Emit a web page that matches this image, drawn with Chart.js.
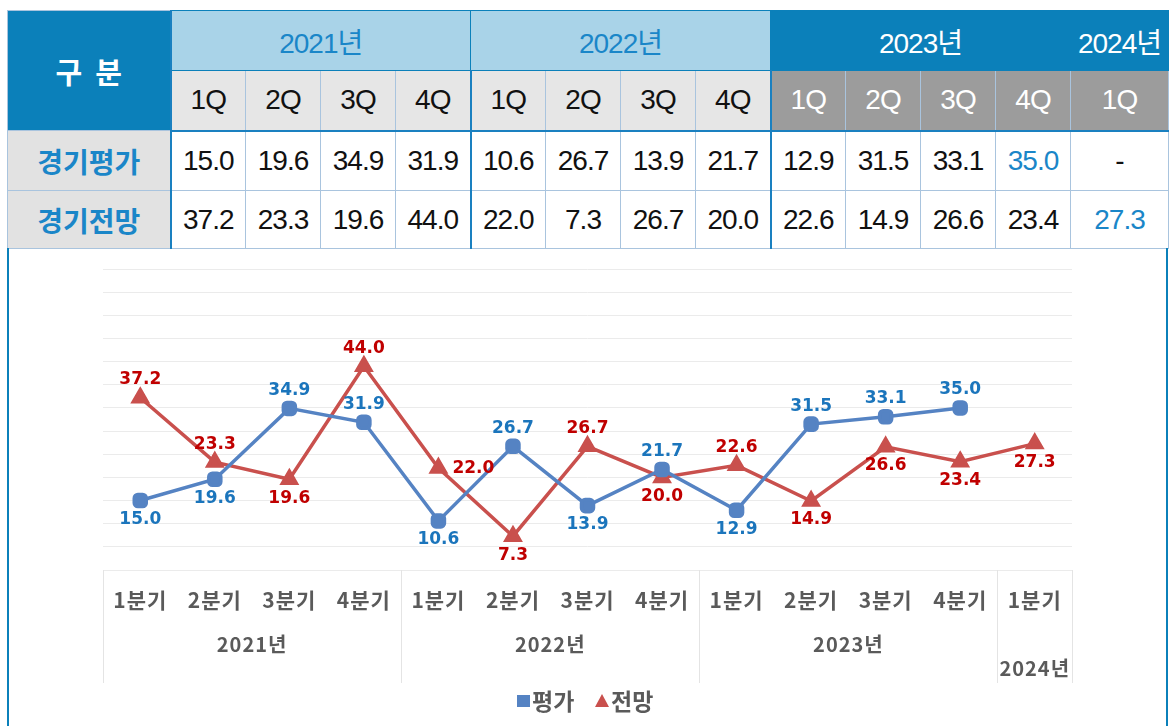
<!DOCTYPE html>
<html>
<head>
<meta charset="utf-8">
<script src="https://cdn.jsdelivr.net/npm/chart.js@4.4.1/dist/chart.umd.min.js"></script>
<style>
  body { margin: 0; background: #fff; width: 1171px; height: 726px; overflow: hidden; position: relative;
         font-family: "Liberation Sans", "Noto Sans CJK KR", sans-serif; }
  #tbl { position: absolute; left: 7px; top: 10px; width: 1161px; border-collapse: collapse; table-layout: fixed; }
  #tbl td { text-align: center; padding: 0; font-size: 28px; border: 1px solid #a9c4de; color: #111; letter-spacing: -1px; white-space: nowrap; }
  #tbl td.hd { background: #0b80ba; color: #fff; }
  #tbl td.lt { background: #a9d3e8; color: #1a86c8; }
  #tbl td.q { background: #e6e6e6; }
  #tbl td.qd { background: #9c9c9c; color: #fff; }
  #tbl td.lab { background: #e2e2e2; color: #1a86c8; font-weight: bold; font-family: "Noto Sans CJK KR", sans-serif; font-size: 28px; letter-spacing: 0; }
  #tbl td.hl { color: #1a86c8; }
  .vb { position: absolute; top: 248px; width: 2px; height: 478px; background: #0b80ba; }
  #wrap { position: absolute; left: 9px; top: 248px; width: 1157px; height: 478px; }
</style>
</head>
<body>
<table id="tbl"></table>
<div class="vb" style="left:7px"></div>
<div class="vb" style="left:1166px"></div>
<div id="wrap"><canvas id="chart"></canvas></div>
<script>
const years = ["2021년", "2022년", "2023년", "2024년"];
const groupSizes = [4, 4, 4, 1];
const tableQuarters = ["1Q", "2Q", "3Q", "4Q", "1Q", "2Q", "3Q", "4Q", "1Q", "2Q", "3Q", "4Q", "1Q"];
const quarterLabels = ["1분기", "2분기", "3분기", "4분기", "1분기", "2분기", "3분기", "4분기", "1분기", "2분기", "3분기", "4분기", "1분기"];
const evalValues = [15.0, 19.6, 34.9, 31.9, 10.6, 26.7, 13.9, 21.7, 12.9, 31.5, 33.1, 35.0, null];
const outlookValues = [37.2, 23.3, 19.6, 44.0, 22.0, 7.3, 26.7, 20.0, 22.6, 14.9, 26.6, 23.4, 27.3];
const evalLabelPos = ["below", "below", "above", "above", "below", "above", "below", "above", "below", "above", "above", "above", null];
const outlookLabelPos = ["above", "above", "below", "above", "right", "below", "above", "below", "above", "below", "below", "below", "below"];

// ---- table ----
const tbl = document.getElementById("tbl");
const thick = "2px solid #1a80c0";
let html = '<colgroup><col style="width:163px">';
for (let i = 0; i < 12; i++) html += '<col style="width:75px">';
html += '<col style="width:98px"></colgroup>';
html += '<tr style="height:60px"><td class="hd" rowspan="2" style="font-weight:bold;font-size:29px;letter-spacing:0;font-family:\'Noto Sans CJK KR\';border-right:' + thick + '">구&nbsp;&nbsp;분</td>';
years.forEach((y, i) => {
  const cls = i < 2 ? "lt" : "hd";
  html += '<td class="' + cls + '" colspan="' + groupSizes[i] + '" style="border-color:#0b80ba">' + y + '</td>';
});
html += '</tr><tr style="height:60px">';
tableQuarters.forEach((q, i) => {
  const bl = (i === 4 || i === 8) ? 'border-left:' + thick + ';' : '';
  html += '<td class="' + (i < 8 ? "q" : "qd") + '" style="' + bl + 'border-bottom:' + thick + '">' + q + '</td>';
});
html += '</tr>';
[["경기평가", evalValues, 11], ["경기전망", outlookValues, 12]].forEach(([name, vals, hi], r) => {
  html += '<tr style="height:' + (r === 0 ? 60 : 58) + 'px"><td class="lab" style="border-right:' + thick + '">' + name + '</td>';
  vals.forEach((v, i) => {
    const bl = (i === 4 || i === 8) ? 'border-left:' + thick + ';' : '';
    html += '<td class="' + (i === hi ? "hl" : "") + '" style="' + bl + '">' + (v == null ? "-" : v.toFixed(1)) + '</td>';
  });
  html += '</tr>';
});
tbl.innerHTML = html;

// ---- chart ----
const BLUE = "#5583c3", RED = "#c9504d";
const LBL_BLUE = "#1b75bc", LBL_RED = "#c00000", GRAY = "#5a5a5a";

const overlay = {
  id: "overlay",
  afterDatasetsDraw(chart) {
    const ctx = chart.ctx;
    ctx.save();
    ctx.font = "bold 17px 'DejaVu Sans'";
    ctx.textBaseline = "middle";
    chart.data.datasets.forEach((ds, di) => {
      const meta = chart.getDatasetMeta(di);
      meta.data.forEach((pt, i) => {
        const v = ds.data[i];
        if (v == null) return;
        const pos = ds.labelPos[i];
        ctx.fillStyle = ds.labelColor;
        let x = pt.x, y = pt.y;
        ctx.textAlign = "center";
        if (pos === "above") y -= 18;
        else if (pos === "below") y += 19;
        else { ctx.textAlign = "left"; x += 14; }
        ctx.fillText(v.toFixed(1), x, y);
      });
    });
    ctx.restore();
  },
  afterDraw(chart) {
    const ctx = chart.ctx, xs = chart.scales.x, a = chart.chartArea;
    const top = a.bottom, bot = a.bottom + 113;
    ctx.save();
    ctx.strokeStyle = "#e4e4e4";
    ctx.lineWidth = 1;
    const seps = [a.left];
    let idx = 0;
    groupSizes.forEach((n) => {
      idx += n;
      if (idx < quarterLabels.length) seps.push((xs.getPixelForValue(idx - 1) + xs.getPixelForValue(idx)) / 2);
    });
    seps.push(a.right);
    ctx.beginPath();
    seps.forEach((sx) => { ctx.moveTo(Math.round(sx) + 0.5, top); ctx.lineTo(Math.round(sx) + 0.5, bot); });
    ctx.stroke();
    ctx.fillStyle = GRAY;
    ctx.textAlign = "center";
    ctx.textBaseline = "middle";
    ctx.letterSpacing = "1px";
    ctx.font = "bold 21px 'Noto Sans CJK KR'";
    quarterLabels.forEach((q, i) => ctx.fillText(q, xs.getPixelForValue(i), top + 30));
    ctx.font = "bold 20px 'Noto Sans CJK KR'";
    years.forEach((y, g) => {
      const cx = (seps[g] + seps[g + 1]) / 2;
      ctx.fillText(y, cx, groupSizes[g] > 1 ? top + 74 : top + 98);
    });
    // legend
    const ly = bot + 18;
    ctx.letterSpacing = "0px";
    ctx.font = "bold 23px 'Noto Sans CJK KR'";
    ctx.textAlign = "left";
    ctx.fillStyle = BLUE;
    ctx.fillRect(508, ly - 6, 13, 12);
    ctx.fillStyle = GRAY;
    ctx.fillText(chart.data.datasets[0].label, 523, ly);
    ctx.fillStyle = RED;
    ctx.beginPath();
    ctx.moveTo(593, ly - 7); ctx.lineTo(600, ly + 6); ctx.lineTo(586, ly + 6); ctx.closePath();
    ctx.fill();
    ctx.fillStyle = GRAY;
    ctx.fillText(chart.data.datasets[1].label, 602, ly);
    ctx.restore();
  }
};

new Chart(document.getElementById("chart"), {
  type: "line",
  data: {
    labels: quarterLabels,
    datasets: [
      {
        label: "평가",
        data: evalValues,
        labelPos: evalLabelPos,
        labelColor: LBL_BLUE,
        borderColor: BLUE,
        backgroundColor: BLUE,
        borderWidth: 3.5,
        pointStyle: "rectRounded",
        pointRadius: 7,
        pointHoverRadius: 7,
        tension: 0,
      },
      {
        label: "전망",
        data: outlookValues,
        labelPos: outlookLabelPos,
        labelColor: LBL_RED,
        borderColor: RED,
        backgroundColor: RED,
        borderWidth: 3.5,
        pointStyle: "triangle",
        pointRadius: 8,
        pointHoverRadius: 8,
        tension: 0,
      },
    ],
  },
  options: {
    responsive: true,
    maintainAspectRatio: false,
    animation: false,
    layout: { padding: { left: 94, right: 94, top: 21, bottom: 156 } },
    plugins: { legend: { display: false }, tooltip: { enabled: false } },
    scales: {
      x: {
        offset: true,
        grid: { display: false },
        border: { display: false },
        ticks: { display: false },
        afterFit: (s) => { s.height = 0; },
      },
      y: {
        min: 0,
        max: 65,
        grid: { color: "#ebebeb", drawTicks: false },
        border: { display: false },
        ticks: { display: false, stepSize: 5 },
        afterFit: (s) => { s.width = 0; },
      },
    },
  },
  plugins: [overlay],
});
</script>
</body>
</html>
